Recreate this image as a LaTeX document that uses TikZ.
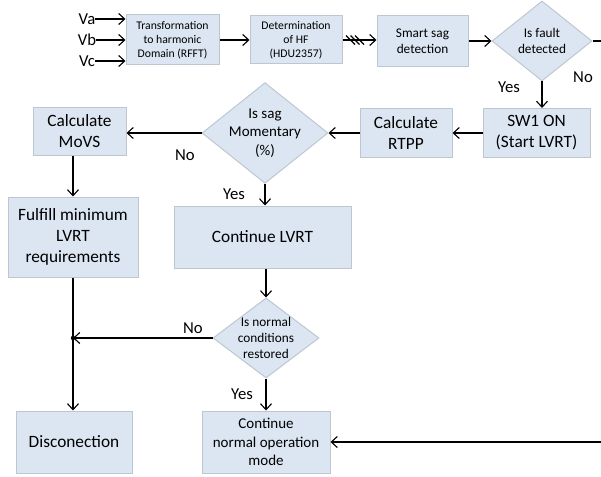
\documentclass[tikz,border=0pt]{standalone}
\usepackage{fontspec}
\setmainfont{Carlito}
\usetikzlibrary{shapes.geometric,arrows.meta}

\definecolor{boxfill}{RGB}{220,230,242}
\definecolor{boxline}{RGB}{190,198,208}

\tikzset{
  blk/.style={draw=boxline, fill=boxfill, line width=1pt, align=center, inner sep=0pt},
  dec/.style={diamond, draw=boxline, fill=boxfill, line width=1pt, align=center, inner sep=-5pt},
  big/.style={font=\fontsize{17.3}{21}\selectfont},
  med/.style={font=\fontsize{15}{18.5}\selectfont},
  mid/.style={font=\fontsize{13.3}{15.8}\selectfont},
  sml/.style={font=\fontsize{11.7}{14}\selectfont},
  lbl/.style={font=\fontsize{16.7}{20}\selectfont, inner sep=0pt},
  arr/.style={-{Straight Barb[length=6pt,width=11pt]}, line width=1.1pt},
}

\begin{document}
\begin{tikzpicture}[x=1pt,y=-1pt]
	\useasboundingbox (0,0) rectangle (601,476);
	
	\node[lbl] (va) at (87,19) {Va};
	\node[lbl] (vb) at (87,40) {Vb};
	\node[lbl] (vc) at (87,61) {Vc};
	\node[blk,sml,minimum width=93pt,minimum height=50pt]  (rfft)    at (172.5,40)  {Transformation\\to harmonic\\Domain (RFFT)};
	\node[blk,sml,minimum width=92pt,minimum height=48pt]  (hf)      at (296,40)    {Determination\\of HF\\(HDU2357)};
	\node[blk,mid,minimum width=91pt,minimum height=51pt]  (smart)   at (422.5,41)  {Smart sag\\detection};
	\node[dec,mid,minimum width=100pt,minimum height=80pt] (fault)   at (542,41)    {Is fault\\detected};
	\node[blk,big,minimum width=107pt,minimum height=49pt] (sw1)     at (536.5,133) {SW1 ON\\(Start LVRT)};
	\node[blk,big,minimum width=92pt,minimum height=49pt]  (rtpp)    at (406,133)   {Calculate\\RTPP};
	\node[dec,med,minimum width=126pt,minimum height=96pt] (sag)     at (265,133)   {Is sag\\Momentary\\(\%)};
	\node[blk,big,minimum width=93pt,minimum height=48pt]  (movs)    at (79.5,131)  {Calculate\\MoVS};
	\node[blk,big,minimum width=130pt,minimum height=80pt] (fulfill) at (73,237)    {Fulfill minimum\\LVRT\\requirements};
	\node[blk,big,minimum width=177pt,minimum height=62pt] (lvrt)    at (262.5,237) {Continue LVRT};
	\node[dec,mid,minimum width=106pt,minimum height=80pt] (normal)  at (266,338)   {Is normal\\conditions\\restored};
	\node[blk,big,minimum width=116pt,minimum height=62pt] (discon)  at (74,442)    {Disconection};
	\node[blk,med,minimum width=128pt,minimum height=62pt] (cont)    at (266,442)   {Continue\\normal operation\\mode};
	
	\node[lbl] (no1)  at (583,77)  {No};
	\node[lbl] (yes1) at (509,87)  {Yes};
	\node[lbl] (no2)  at (185,155) {No};
	\node[lbl] (yes2) at (234,194) {Yes};
	\node[lbl] (no3)  at (193,328) {No};
	\node[lbl] (yes3) at (242,394) {Yes};
	
	\coordinate (edgeA) at (601,41);
	\coordinate (edgeB) at (cont.east -| edgeA);
	\coordinate (jn) at (fulfill.south |- normal.west);
	
	\foreach \v in {va,vb,vc}
		\draw[arr] (\v.east) -- (\v.east -| rfft.west);
	\draw[arr] (rfft.east) -- (rfft.east -| hf.west);
	\draw[arr] (hf.east) -- (hf.east -| smart.west);
	\foreach \dx in {8,12.5,17}
		\draw[line width=1.1pt] ([xshift=\dx pt]hf.east) ++(-4.5,-4.5) -- ++(9,9);
	\draw[arr] (smart.east) -- (fault.west);
	\draw[line width=1.1pt] (fault.east) -- (edgeA);
	\draw[arr] (fault.south) -- (fault.south |- sw1.north);
	\draw[arr] (sw1.west) -- (sw1.west -| rtpp.east);
	\draw[arr] (rtpp.west) -- (rtpp.west -| sag.east);
	\draw[arr] (sag.west) -- (sag.west -| movs.east);
	\draw[arr] (movs.south -| fulfill.north) -- (fulfill.north);
	\draw[arr] (sag.south) -- (sag.south |- lvrt.north);
	\draw[arr] (lvrt.south -| normal.north) -- (normal.north);
	\draw[arr] (normal.west) -- (jn);
	\fill (jn) circle (2.2pt);
	\draw[arr] (fulfill.south) -- (fulfill.south |- discon.north);
	\draw[arr] (normal.south) -- (cont.north);
	\draw[arr] (edgeB) -- (cont.east);
	
\end{tikzpicture}
\end{document}
